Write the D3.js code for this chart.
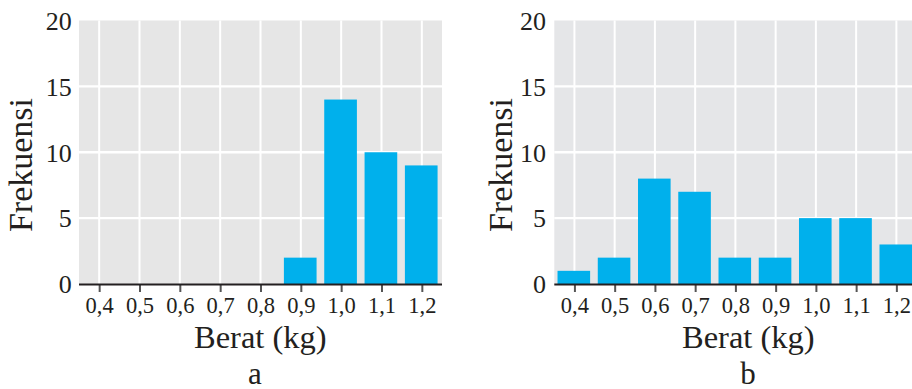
<!DOCTYPE html>
<html>
<head>
<meta charset="utf-8">
<script src="https://cdn.jsdelivr.net/npm/d3@7/dist/d3.min.js"></script>
<style>
  html, body { margin: 0; padding: 0; background: #ffffff; }
  svg { display: block; }
  text { font-family: "Liberation Serif", "DejaVu Serif", serif; fill: #231f20; }
</style>
</head>
<body>
<svg id="chart" width="912" height="389"></svg>
<script>
// ---- Data ----
const categories = [0.4, 0.5, 0.6, 0.7, 0.8, 0.9, 1.0, 1.1, 1.2];
const tickLabels = ["0,4", "0,5", "0,6", "0,7", "0,8", "0,9", "1,0", "1,1", "1,2"];
const valuesA = [0, 0, 0, 0, 0, 2, 14, 10, 9];
const valuesB = [1, 2, 8, 7, 2, 2, 5, 5, 3];
const yTicks = [0, 5, 10, 15, 20];
const panelLabels = ["a", "b"];
const xTitle = "Berat (kg)";
const yTitle = "Frekuensi";

const svg = d3.select("#chart");

const panels = [
  { values: valuesA, left: 79, right: 442, bg: "#e6e6e6", yLabelX: 71.7, yTitleX: 32, xTitleX: 260.3, labelX: 255, label: panelLabels[0] },
  { values: valuesB, left: 554.3, right: 916.5, bg: "#e5e6e8", yLabelX: 546, yTitleX: 512, xTitleX: 748.3, labelX: 748, label: panelLabels[1] }
];

const plotTop = 20.5, plotBottom = 284;
const barColor = "#00b0ec";

panels.forEach(p => {
  const x = d3.scaleLinear().domain([0.35, 1.25]).range([p.left, p.right]);
  const y = d3.scaleLinear().domain([0, 20]).range([plotBottom, plotTop]);
  const g = svg.append("g");

  // background
  g.append("rect")
    .attr("x", p.left).attr("y", plotTop)
    .attr("width", p.right - p.left).attr("height", plotBottom - plotTop)
    .attr("fill", p.bg);

  // vertical grid
  g.selectAll("line.vg").data(categories).enter().append("line")
    .attr("class", "vg")
    .attr("x1", d => x(d)).attr("x2", d => x(d))
    .attr("y1", plotTop).attr("y2", plotBottom)
    .attr("stroke", "#ffffff").attr("stroke-width", 2);

  // horizontal grid
  g.selectAll("line.hg").data(yTicks.filter(t => t > 0 && t < 20)).enter().append("line")
    .attr("class", "hg")
    .attr("x1", p.left).attr("x2", p.right)
    .attr("y1", d => y(d)).attr("y2", d => y(d))
    .attr("stroke", "#ffffff").attr("stroke-width", 2.4);

  // bars
  const bw = x(0.081) - x(0);
  g.selectAll("rect.bar").data(categories).enter().append("rect")
    .attr("class", "bar")
    .attr("x", d => x(d) - bw / 2 - 0.6)
    .attr("width", bw)
    .attr("y", (d, i) => y(p.values[i]))
    .attr("height", (d, i) => y(0) - y(p.values[i]))
    .attr("fill", barColor);

  // x axis
  const xAxis = d3.axisBottom(x)
    .tickValues(categories)
    .tickFormat((d, i) => tickLabels[i])
    .tickSize(7)
    .tickPadding(8)
    .tickSizeOuter(0);
  const ax = g.append("g").attr("transform", `translate(0,${plotBottom + 1})`).call(xAxis);
  ax.select(".domain").remove();
  ax.selectAll(".tick line").attr("stroke", "#555555").attr("stroke-width", 2);
  ax.selectAll(".tick text")
    .attr("y", 28).attr("dy", 0)
    .style("font-family", '"Liberation Serif", serif')
    .style("font-size", "22.5px").attr("fill", "#231f20");

  // baseline
  g.append("line")
    .attr("x1", p.left).attr("x2", p.right)
    .attr("y1", y(0) + 0.5).attr("y2", y(0) + 0.5)
    .attr("stroke", "#231f20").attr("stroke-width", 2.2);

  // y tick labels via axis
  const yAxis = d3.axisLeft(y).tickValues(yTicks).tickSize(0).tickPadding(0);
  const ay = g.append("g").attr("transform", `translate(${p.yLabelX},0)`).call(yAxis);
  ay.select(".domain").remove();
  ay.selectAll(".tick text")
    .attr("x", 0).attr("dy", "0.34em")
    .style("font-family", '"Liberation Serif", serif')
    .style("font-size", "26px").attr("fill", "#231f20");

  // y title
  g.append("text")
    .attr("transform", `translate(${p.yTitleX},165) rotate(-90)`)
    .attr("text-anchor", "middle")
    .style("font-size", "34px")
    .text(yTitle);

  // x title
  g.append("text")
    .attr("x", p.xTitleX).attr("y", 348)
    .attr("text-anchor", "middle")
    .style("font-size", "32.5px")
    .text(xTitle);

  // panel label
  g.append("text")
    .attr("x", p.labelX).attr("y", 384)
    .attr("text-anchor", "middle")
    .style("font-size", "31px")
    .text(p.label);
});
</script>
</body>
</html>
